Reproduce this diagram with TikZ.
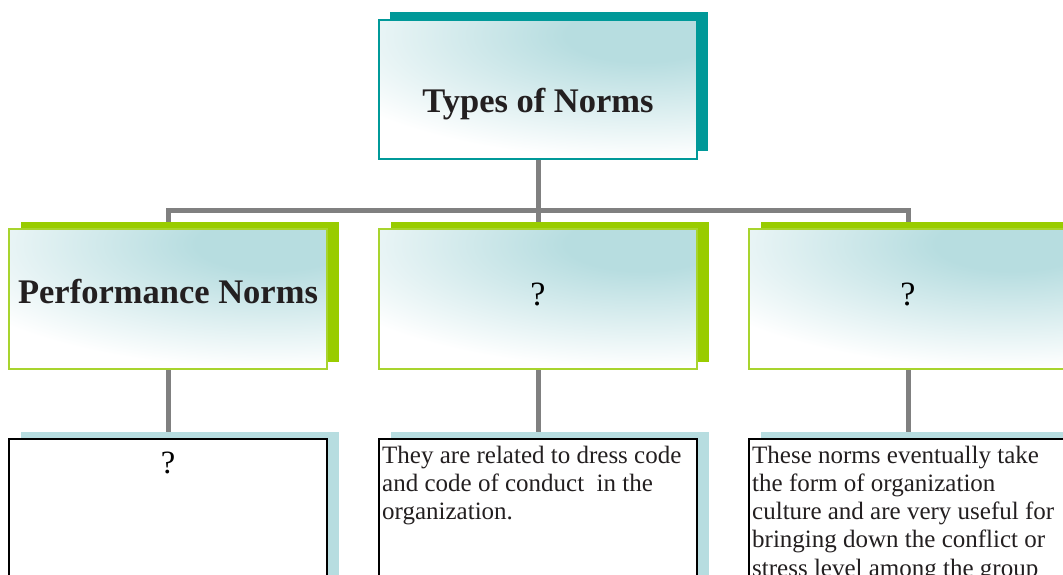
\documentclass[tikz,border=0pt]{standalone}
\usepackage{fontspec}
\setmainfont{Liberation Serif}
\usetikzlibrary{shadows,backgrounds}

\definecolor{tealdark}{HTML}{009999}
\definecolor{lime}{HTML}{99CC00}
\definecolor{limeline}{HTML}{A8D42E}
\definecolor{paleteal}{HTML}{B7DDE0}
\definecolor{linkgray}{HTML}{808080}
\definecolor{ink}{HTML}{231F20}

% soft glow used as the fill of the title cards (25bp = edge of the shaded path)
\pgfdeclareradialshading{glow}{\pgfpoint{0bp}{0bp}}{%
  color(0bp)=(paleteal); color(5bp)=(paleteal); color(23bp)=(white); color(50bp)=(white)}

\tikzset{
  card/.style={rectangle, inner sep=0pt, minimum width=318pt, minimum height=139pt,
    line width=1.4pt,
    path picture={
      \fill[white] (path picture bounding box.south west) rectangle (path picture bounding box.north east);
      \shade[shading=glow]
        ([xshift=-55pt,yshift=-15pt]path picture bounding box.north east) ellipse (380pt and 135pt);
    }},
  headcard/.style={card, draw=tealdark,
    general shadow={fill=tealdark, shadow xshift=11pt, shadow yshift=8pt}},
  subcard/.style={card, draw=limeline, minimum height=140pt,
    general shadow={fill=lime, shadow xshift=12pt, shadow yshift=7pt}},
  notecard/.style={rectangle, inner sep=0pt, minimum width=318pt, minimum height=160pt,
    draw=black, fill=white, line width=1.6pt,
    general shadow={fill=paleteal, shadow xshift=12pt, shadow yshift=7pt}},
  link/.style={draw=linkgray, line width=5pt},
  headtext/.style={inner sep=0pt, anchor=base, text=ink,
    font=\fontsize{34.5}{40}\selectfont\bfseries},
  asktext/.style={inner sep=0pt, anchor=base, text=black,
    font=\fontsize{34}{40}\selectfont},
  bodytext/.style={inner sep=0pt, anchor=base west, text=ink,
    font=\fontsize{25}{28.3}\selectfont},
}
\newcommand{\notepar}[1]{\parbox[t]{320pt}{\raggedright #1}}

\begin{document}
\begin{tikzpicture}[x=1pt,y=-1pt]
  \useasboundingbox (0,0) rectangle (1063,574);
  \clip (0,0) rectangle (1063,574);

  % boxes
  \node[headcard] (top) at (538,89.5) {};
  \node[subcard] (m1) at (168,299) {};
  \node[subcard] (m2) at (538,299) {};
  \node[subcard] (m3) at (908,299) {};
  \node[notecard] (b1) at (168,519) {};
  \node[notecard] (b2) at (538,519) {};
  \node[notecard] (b3) at (908,519) {};

  % connectors behind the boxes
  \begin{pgfonlayer}{background}
    \coordinate (busL) at (168,210);
    \coordinate (busR) at (908,210);
    \draw[link] (top.south) -- (top.south |- busL);
    \draw[link] (m1.north) -- (busL) -- (busR) -- (m3.north);
    \draw[link] (top.south |- busL) -- (m2.north);
    \draw[link] (m1.south) -- (b1.north);
    \draw[link] (m2.south) -- (b2.north);
    \draw[link] (m3.south) -- (b3.north);
  \end{pgfonlayer}

  % labels
  \node[headtext] (t0) at (538,112) {Types of Norms};
  \node[headtext] (t1) at (168,303) {Performance Norms};
  \node[asktext] (t2) at (538,305) {?};
  \node[asktext] (t3) at (908,305) {?};
  \node[asktext, font=\fontsize{32.5}{38}\selectfont] (d1) at (168,473) {?};
  \node[bodytext] (d2) at (382,463) {\notepar{They are related to dress code\\and code of conduct\ \ in the\\organization.}};
  \node[bodytext] (d3) at (752,463) {\notepar{These norms eventually take\\the form of organization\\culture and are very useful for\\bringing down the conflict or\\stress level among the group}};
\end{tikzpicture}
\end{document}
